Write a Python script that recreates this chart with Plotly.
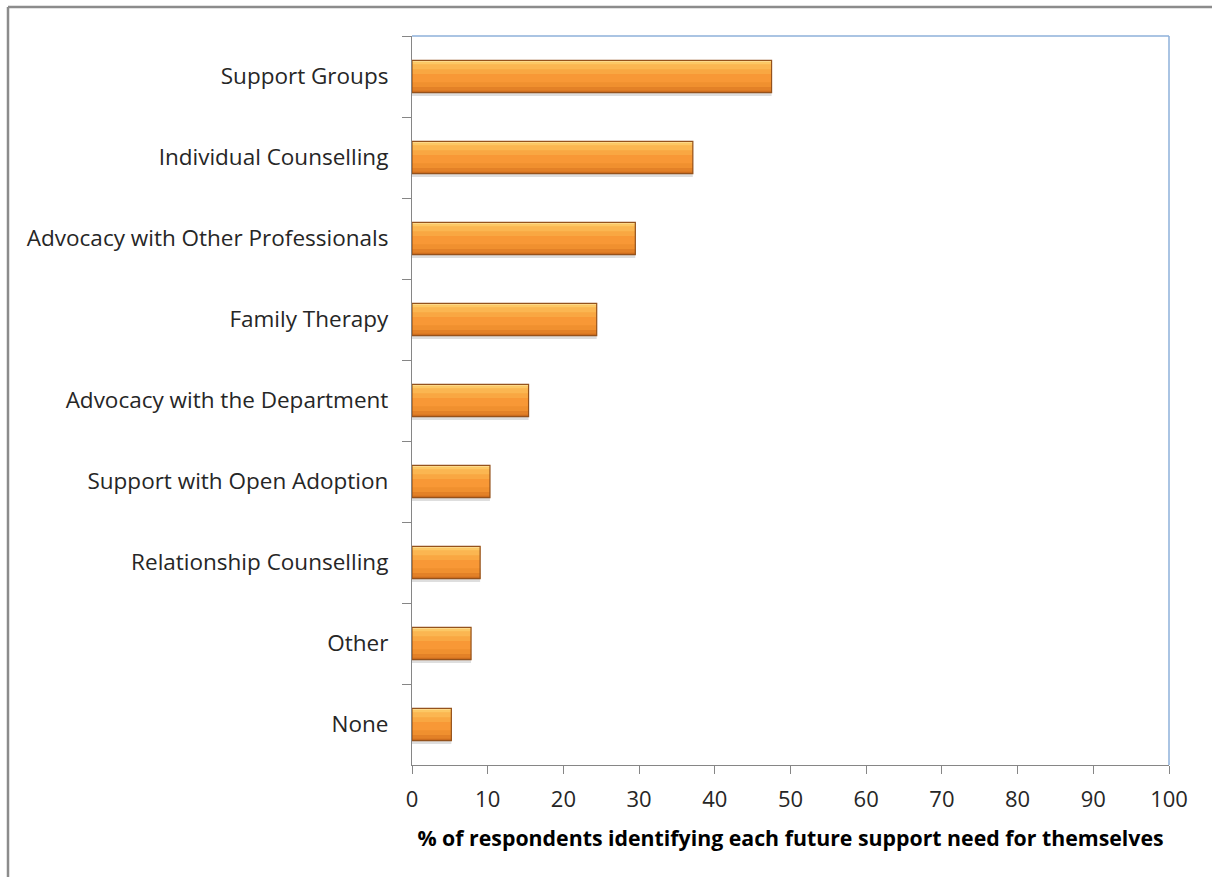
import plotly.graph_objects as go

# Support needs, top to bottom
categories = [
    "Support Groups",
    "Individual Counselling",
    "Advocacy with Other Professionals",
    "Family Therapy",
    "Advocacy with the Department",
    "Support with Open Adoption",
    "Relationship Counselling",
    "Other",
    "None",
]
percent = [47.5, 37.1, 29.5, 24.4, 15.4, 10.3, 9.0, 7.8, 5.2]

x_ticks = [0, 10, 20, 30, 40, 50, 60, 70, 80, 90, 100]
x_title = "% of respondents identifying each future support need for themselves"

W, H = 1212, 877
L, R, T, B = 412, 43, 36, 112
pw, ph = W - L - R, H - T - B

FONT = "Open Sans"
TEXT = "#262626"
BAR_W = 0.4

fig = go.Figure()

# soft drop shadow just under each bar
fig.add_trace(go.Bar(
    y=categories, x=percent, orientation="h",
    width=BAR_W + 0.01, offset=-0.17,
    marker=dict(color="rgba(0,0,0,0.13)", line=dict(width=0)),
    hoverinfo="skip", showlegend=False,
))

# shaded bands stacked over one another to give the bars a rounded, bevelled look
bands = [
    # (offset, width, colour); None offset = centred full bar
    (None, BAR_W, "#F89836"),
    (-0.2, 0.17, "#F9A742"),
    (-0.2, 0.11, "#FBB651"),
    (-0.2, 0.05, "#FCC865"),
    (-0.2, 0.018, "#FDD98A"),
    (0.07, 0.13, "#F0902F"),
    (0.13, 0.07, "#E38127"),
    (0.175, 0.025, "#CC6C1E"),
]
for off, wd, col in bands:
    kw = dict(width=wd)
    if off is not None:
        kw["offset"] = off
    fig.add_trace(go.Bar(
        y=categories, x=percent, orientation="h",
        marker=dict(color=col, line=dict(width=0)),
        hoverinfo="skip", showlegend=False, **kw,
    ))

# outline
fig.add_trace(go.Bar(
    y=categories, x=percent, orientation="h",
    width=BAR_W,
    marker=dict(color="rgba(0,0,0,0)", line=dict(color="#94521C", width=1.2)),
    hoverinfo="skip", showlegend=False,
))

def px_x(p):
    return (p - L) / pw

def px_y(p):
    return (H - B - p) / ph

shapes = [
    # outer frame
    dict(type="line", xref="paper", yref="paper",
         x0=px_x(8), x1=px_x(W + 5), y0=px_y(7), y1=px_y(7),
         line=dict(color="#8C8C8C", width=2.5)),
    dict(type="line", xref="paper", yref="paper",
         x0=px_x(8), x1=px_x(8), y0=px_y(7), y1=px_y(H + 5),
         line=dict(color="#8C8C8C", width=2.5)),
    # plot area top and right edges
    dict(type="line", xref="paper", yref="paper",
         x0=0, x1=1, y0=1, y1=1, line=dict(color="#8EB0DA", width=1.5)),
    dict(type="line", xref="paper", yref="paper",
         x0=1, x1=1, y0=0, y1=1, line=dict(color="#8EB0DA", width=1.5)),
]

fig.update_layout(
    width=W, height=H,
    margin=dict(l=L, r=R, t=T, b=B),
    paper_bgcolor="white", plot_bgcolor="white",
    barmode="overlay",
    shapes=shapes,
    font=dict(family=FONT, color=TEXT),
    xaxis=dict(
        range=[0, 100], tickvals=x_ticks, ticktext=[str(v) for v in x_ticks],
        showgrid=False, zeroline=False,
        showline=True, linecolor="#868686", linewidth=1.2,
        ticks="outside", ticklen=8, tickcolor="#868686", tickwidth=1.2,
        tickfont=dict(size=22, family=FONT, color=TEXT),
        ticklabelstandoff=6,
        title=dict(text="<b>" + x_title + "</b>",
                   font=dict(size=21.3, family=FONT, color="#000000"), standoff=19),
        fixedrange=True,
    ),
    yaxis=dict(
        type="category", categoryorder="array", categoryarray=categories,
        autorange="reversed",
        showgrid=False, zeroline=False,
        showline=True, linecolor="#868686", linewidth=1.2,
        ticks="outside", ticklen=9, tickcolor="#868686", tickwidth=1.2,
        tickson="boundaries",
        tickfont=dict(size=22.5, family=FONT, color=TEXT),
        ticklabelstandoff=18,
        fixedrange=True,
    ),
)

fig.write_html("out.html")
